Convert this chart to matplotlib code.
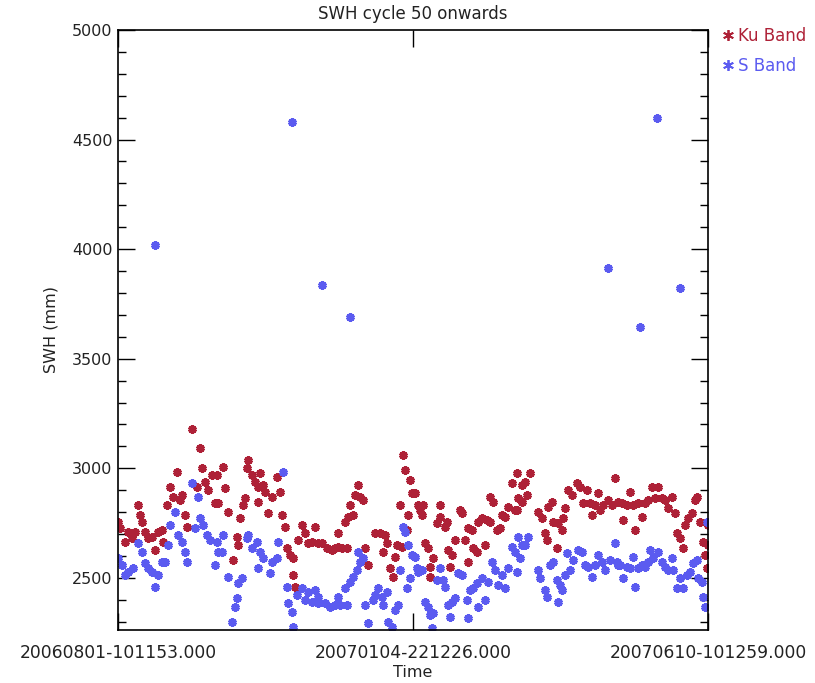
import matplotlib
matplotlib.use("Agg")
import matplotlib.pyplot as plt
from matplotlib.ticker import MultipleLocator

title = "SWH cycle 50 onwards"
x_label = "Time"
y_label = "SWH (mm)"
x_tick_days = [0.0, 156.5, 313.0]
x_tick_labels = ["20060801-101153.000", "20070104-221226.000", "20070610-101259.000"]
y_limits = (2262, 5000)

# Ku band: days since 2006-08-01 and SWH (mm)
ku_days = [0.0, 1.1, 3.7, 5.3, 7.4, 9.0, 10.6, 11.7, 12.7, 14.3, 15.9, 18.0, 19.6, 21.2, 23.3, 23.9,
           26.0, 27.6, 29.2, 31.3, 32.9, 34.0, 35.5, 36.6, 39.3, 41.9, 43.5, 44.6, 46.2, 47.7, 49.9, 51.5,
           52.5, 53.1, 55.7, 56.8, 58.4, 61.0, 63.1, 63.7, 64.7, 66.3, 67.4, 68.4, 69.0, 71.1, 72.7, 74.3,
           74.3, 75.3, 76.9, 78.0, 79.6, 81.7, 84.3, 85.9, 87.0, 88.6, 89.7, 91.2, 92.8, 92.8, 93.9, 95.5,
           97.6, 99.2, 100.8, 102.9, 104.5, 106.1, 108.2, 110.9, 113.5, 115.1, 116.7, 116.7, 118.8, 120.4,
           121.5, 122.0, 123.1, 124.7, 125.7, 127.3, 128.4, 130.0, 131.0, 132.6, 136.3, 139.0, 140.6, 141.6,
           142.7, 144.3, 145.9, 146.9, 148.0, 149.6, 150.7, 151.2, 152.3, 153.3, 153.8, 154.9, 156.0, 157.6,
           159.2, 160.2, 161.8, 161.3, 162.9, 164.5, 165.5, 167.1, 165.5, 169.2, 170.8, 170.8, 173.5, 174.5,
           175.1, 177.2, 176.1, 178.8, 181.4, 182.5, 184.1, 185.7, 185.7, 187.8, 188.3, 190.4, 191.0, 193.1,
           194.7, 195.8, 197.3, 197.3, 198.9, 201.1, 202.7, 203.7, 205.3, 206.9, 209.0, 210.6, 211.7, 212.2,
           214.3, 215.9, 218.6, 214.3, 217.0, 211.7, 222.8, 224.9, 226.5, 227.6, 228.1, 230.2, 230.8, 232.9,
           233.4, 235.5, 236.1, 237.1, 238.7, 240.8, 243.5, 245.1, 246.7, 248.8, 250.4, 251.5, 253.0, 254.6,
           255.7, 257.3, 259.9, 262.1, 263.7, 265.3, 267.4, 267.9, 270.0, 271.6, 273.2, 274.3, 275.9, 278.0,
           279.6, 281.2, 283.3, 284.9, 286.5, 288.6, 290.2, 291.8, 293.9, 295.5, 296.6, 298.1, 299.7, 300.8,
           302.4, 304.5, 306.1, 307.2, 308.8, 310.3, 311.4, 312.5, 313.0, 313.0]
ku_swh = [2754, 2726, 2662, 2708, 2680, 2708, 2831, 2786, 2754, 2708, 2680, 2685, 2626, 2708, 2717, 2662,
          2831, 2913, 2868, 2982, 2854, 2877, 2786, 2731, 3178, 2913, 3091, 3000, 2936, 2900, 2968, 2840,
          2968, 2840, 3005, 2909, 2799, 2580, 2685, 2648, 2772, 2831, 2863, 3000, 3037, 2968, 2936, 2913,
          2845, 2977, 2922, 2890, 2795, 2868, 2959, 2890, 2786, 2731, 2635, 2603, 2589, 2512, 2457, 2671,
          2740, 2703, 2658, 2662, 2731, 2658, 2658, 2635, 2626, 2635, 2639, 2703, 2635, 2754,
          2635, 2776, 2831, 2786, 2877, 2922, 2868, 2854, 2635, 2557, 2703, 2703, 2617, 2694,
          2658, 2543, 2502, 2594, 2648, 2831, 2639, 3059, 2991, 2717, 2786, 2945, 2886, 2886,
          2831, 2808, 2831, 2786, 2658, 2635, 2548, 2589, 2502, 2749, 2776, 2831, 2731, 2754,
          2626, 2603, 2548, 2671, 2808, 2795, 2671, 2571, 2726, 2717, 2635, 2617, 2754, 2772,
          2648, 2763, 2754, 2868, 2845, 2717, 2726, 2786, 2776, 2822, 2932, 2808, 2977, 2863,
          2922, 2936, 2977, 2845, 2877, 2808, 2799, 2772, 2703, 2671, 2822, 2845, 2754, 2635,
          2749, 2717, 2772, 2817, 2900, 2877, 2932, 2913, 2840, 2900, 2840, 2786, 2831, 2886,
          2808, 2831, 2854, 2831, 2954, 2845, 2840, 2763, 2831, 2890, 2831, 2717, 2840, 2776,
          2840, 2854, 2913, 2863, 2913, 2863, 2854, 2817, 2868, 2795, 2703, 2680, 2635, 2740,
          2772, 2795, 2854, 2868, 2754, 2662, 2603, 2543, 2740, 2648]

# S band: days since 2006-08-01 and SWH (mm)
s_days = [0.0, 2.1, 3.7, 5.3, 8.0, 10.6, 12.7, 14.3, 15.9, 18.0, 19.6, 19.6, 21.2, 23.3, 24.9, 26.5,
          27.6, 30.2, 31.8, 34.0, 35.5, 36.6, 39.3, 40.8, 42.4, 43.5, 45.1, 47.2, 48.8, 51.5, 53.1,
          52.5, 55.7, 55.2, 58.4, 60.5, 62.1, 63.1, 63.7, 65.8, 68.4, 69.0, 71.1, 73.7, 74.3, 75.3, 76.9,
          80.6, 81.7, 84.3, 84.9, 87.5, 89.7, 90.2, 92.3, 92.3, 92.8, 95.0, 97.6, 99.2, 100.8, 102.9,
          104.5, 106.1, 106.1, 108.2, 109.8, 112.5, 115.1, 116.7, 117.8, 120.4, 121.5, 123.1, 123.1,
          124.7, 126.8, 127.3, 128.4, 130.0, 131.0, 132.6, 135.3, 136.3, 137.9, 140.1, 140.6, 142.7,
          143.2, 145.4, 146.9, 148.5, 149.6, 151.2, 152.3, 153.3, 153.8, 154.9, 156.0, 157.6, 158.6,
          159.2, 161.3, 162.9, 164.5, 165.5, 166.6, 167.1, 169.2, 170.8, 172.4, 173.5, 175.1, 176.1,
          177.2, 178.8, 180.4, 182.5, 185.1, 185.7, 186.7, 188.3, 190.4, 191.0, 193.1, 194.7, 196.3,
          198.4, 200.0, 201.6, 203.7, 205.3, 206.9, 209.0, 210.6, 212.2, 214.3, 215.9, 217.5, 213.3,
          211.7, 222.8, 223.9, 226.5, 227.6, 229.2, 230.8, 232.9, 233.4, 234.5, 235.5, 237.1, 238.2,
          239.8, 241.4, 244.0, 246.2, 247.7, 249.3, 251.5, 253.0, 254.6, 256.8, 258.4, 259.9, 261.0,
          263.7, 265.3, 264.7, 266.3, 267.9, 270.0, 271.6, 273.2, 274.3, 275.9, 276.9, 278.0, 279.6,
          281.2, 282.2, 283.8, 285.9, 286.5, 288.6, 290.2, 291.8, 293.9, 294.4, 296.6, 298.1, 298.1,
          299.7, 301.9, 303.5, 305.0, 307.2, 307.7, 309.8, 310.3, 311.4, 312.5]
s_swh = [2589, 2557, 2512, 2525, 2543, 2658, 2617, 2566, 2543, 2525, 2457, 4018, 2512, 2571, 2571, 2648,
         2740, 2799, 2694, 2662, 2617, 2571, 2932, 2726, 2868, 2772, 2740, 2694, 2671, 2557, 2617,
         2662, 2694, 2617, 2502, 2297, 2365, 2407, 2475, 2498, 2680, 2694, 2635, 2662, 2543, 2617, 2589,
         2521, 2571, 2589, 2662, 2982, 2457, 2384, 4580, 2343, 2274, 2420, 2452, 2397, 2434, 2388,
         2443, 2411, 2384, 3835, 2384, 2365, 2375, 2411, 2375, 2452, 2375, 3690, 2480,
         2502, 2534, 2617, 2571, 2589, 2375, 2292, 2397, 2420, 2452, 2411, 2375, 2434,
         2297, 2274, 2352, 2375, 2534, 2731, 2708, 2452, 2648, 2498, 2603, 2594, 2543,
         2525, 2534, 2388, 2365, 2329, 2270, 2338, 2489, 2543, 2489, 2457, 2375, 2320,
         2388, 2407, 2521, 2512, 2397, 2315, 2443, 2452, 2475, 2365, 2498, 2397, 2480,
         2571, 2534, 2466, 2512, 2452, 2543, 2639, 2617, 2685, 2648, 2648, 2685, 2589,
         2525, 2534, 2498, 2443, 2411, 2557, 2571, 2489, 2388, 2466, 2443, 2512, 2612,
         2534, 2580, 2626, 2617, 2557, 2548, 2502, 2557, 2603, 2571, 2534, 3913, 2580,
         2658, 2557, 2571, 2557, 2498, 2548, 2543, 2594, 2457, 2543, 3644, 2557, 2548,
         2571, 2626, 2589, 4598, 2617, 2571, 2548, 2534, 2589, 2534, 2452, 3822, 2498,
         2452, 2512, 2525, 2566, 2580, 2498, 2480, 2411, 2365, 2754]

series_names = ["Ku Band", "S Band"]
series_colors = ["#AE2137", "#5B5BF0"]

plt.rcParams['font.family'] = ['DejaVu Sans']
fig = plt.figure(figsize=(8.15, 6.83), dpi=100)
ax = fig.add_axes([0.1448, 0.0776, 0.7239, 0.8785])

marker = (6, 2, 0)
for d, v, name, c in zip([ku_days, s_days], [ku_swh, s_swh], series_names, series_colors):
    ax.plot(d, v, linestyle='none', marker=marker, markersize=6, markeredgewidth=2.3,
            color=c, label=name)

ax.set_xlim(x_tick_days[0], x_tick_days[-1])
ax.set_ylim(*y_limits)
ax.set_xticks(x_tick_days)
ax.set_xticklabels(x_tick_labels, fontsize=12.3, color='#222222')
ax.yaxis.set_major_locator(MultipleLocator(500))
ax.yaxis.set_minor_locator(MultipleLocator(100))
ax.tick_params(axis='y', which='major', direction='in', length=12, width=1, left=True, right=True,
               labelsize=11.5, labelcolor='#222222', pad=4)
ax.tick_params(axis='y', which='minor', direction='in', length=6, width=1, left=True, right=True)
ax.tick_params(axis='x', which='major', direction='in', length=12, width=1, top=True, bottom=True,
               pad=10)
for s in ax.spines.values():
    s.set_linewidth(1.2)

ax.set_title(title, fontsize=12, color='#222222', pad=8)
ax.set_xlabel(x_label, fontsize=11.5, color='#222222', labelpad=2)
ax.set_ylabel(y_label, fontsize=11.5, color='#222222', labelpad=10)

leg = ax.legend(loc='upper left', bbox_to_anchor=(1.005, 1.025), frameon=False, handlelength=0.7,
                handletextpad=0.25, borderaxespad=0.3, labelspacing=0.75, fontsize=12,
                markerscale=1.3)
for t, c in zip(leg.get_texts(), series_colors):
    t.set_color(c)
for h in leg.legend_handles:
    h.set_markeredgewidth(1.3)

fig.savefig("out.png", dpi=100)
